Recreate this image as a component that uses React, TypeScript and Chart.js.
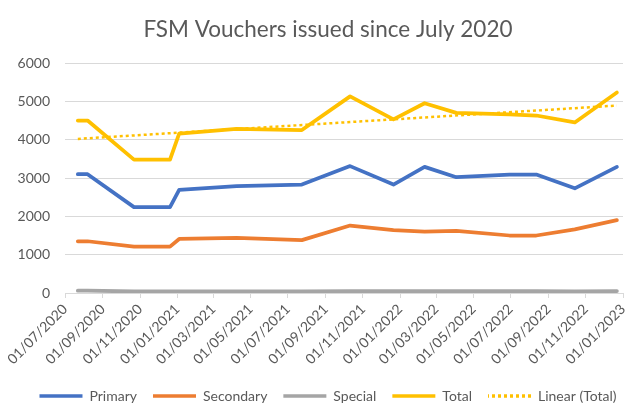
import React, { useEffect, useRef } from 'react';
import { Chart, registerables } from 'chart.js';

Chart.register(...registerables);

// ---- data ----
const seriesNames = ['Primary', 'Secondary', 'Special', 'Total'];
const trendName = 'Linear (Total)';
const issueDates = [
  '22/07/2020', '07/08/2020', '22/10/2020', '20/12/2020', '04/01/2021',
  '08/04/2021', '24/07/2021', '11/10/2021', '21/12/2021', '10/02/2022',
  '03/04/2022', '29/06/2022', '12/08/2022', '14/10/2022', '22/12/2022',
];
const primary = [3100, 3100, 2240, 2240, 2690, 2790, 2830, 3310, 2830, 3290, 3020, 3090, 3090, 2730, 3290];
const secondary = [1350, 1350, 1210, 1210, 1410, 1440, 1380, 1760, 1640, 1600, 1620, 1500, 1500, 1660, 1900];
const special = [60, 60, 40, 40, 40, 45, 45, 50, 50, 50, 50, 50, 50, 40, 50];
const total = [4500, 4500, 3480, 3480, 4160, 4280, 4250, 5130, 4530, 4950, 4700, 4660, 4630, 4450, 5230];
const trendDates = ['22/07/2020', '22/12/2022'];
const trendTotal = [4020, 4890];
const xTickLabels = [
  '01/07/2020', '01/09/2020', '01/11/2020', '01/01/2021', '01/03/2021', '01/05/2021',
  '01/07/2021', '01/09/2021', '01/11/2021', '01/01/2022', '01/03/2022', '01/05/2022',
  '01/07/2022', '01/09/2022', '01/11/2022', '01/01/2023',
];
const yTicks = [0, 1000, 2000, 3000, 4000, 5000, 6000];
const titleText = 'FSM Vouchers issued since July 2020';

// ---- styling ----
const COLORS = ['#4472C4', '#ED7D31', '#A5A5A5', '#FFC000'];
const TEXT = '#595959';
const GRID = '#D9D9D9';
const FONT = 'Lato';

const day = (s: string) => {
  const [d, m, y] = s.split('/').map(Number);
  return Date.UTC(y, m - 1, d) / 86400000;
};

export default function App() {
  const ref = useRef<HTMLCanvasElement | null>(null);

  useEffect(() => {
    document.body.style.margin = '0';
    const canvas = ref.current;
    if (!canvas) return;

    const pc = document.createElement('canvas');
    pc.width = 6;
    pc.height = 4;
    const pctx = pc.getContext('2d')!;
    pctx.fillStyle = COLORS[3];
    pctx.fillRect(0, 0, 3, 4);
    const ctx0 = canvas.getContext('2d')!;
    const dotPattern = ctx0.createPattern(pc, 'repeat');

    const seriesData = [primary, secondary, special, total];
    const datasets: any[] = seriesData.map((vals, i) => ({
      label: seriesNames[i],
      data: vals.map((v, j) => ({ x: day(issueDates[j]), y: v })),
      borderColor: COLORS[i],
      backgroundColor: COLORS[i],
      borderWidth: 3.75,
      pointRadius: 0,
      tension: 0,
      borderJoinStyle: 'round',
      borderCapStyle: 'round',
      fill: false,
    }));
    datasets.push({
      label: trendName,
      data: trendTotal.map((v, j) => ({ x: day(trendDates[j]), y: v })),
      borderColor: COLORS[3],
      backgroundColor: COLORS[3],
      borderWidth: 2.5,
      borderDash: [3, 3],
      pointRadius: 0,
      tension: 0,
      fill: false,
    });

    const chart = new Chart(canvas, {
      type: 'line',
      data: { datasets },
      options: {
        animation: false,
        responsive: false,
        layout: { padding: { left: 18, right: 0, top: 0, bottom: -5 } },
        plugins: {
          title: {
            display: true,
            text: titleText,
            color: TEXT,
            font: { family: FONT, size: 22.5, weight: 'normal' },
            padding: { top: 16, bottom: 20 },
          },
          legend: {
            position: 'bottom',
            labels: {
              boxWidth: 43,
              boxHeight: 3.5,
              padding: 16,
              color: TEXT,
              font: { family: FONT, size: 14 },
              generateLabels: (ch: any) =>
                ch.data.datasets.map((ds: any, i: number) => ({
                  text: ds.label,
                  fillStyle: i === 4 ? dotPattern : ds.borderColor,
                  strokeStyle: ds.borderColor,
                  lineWidth: 0,
                  hidden: false,
                  datasetIndex: i,
                  fontColor: TEXT,
                })),
            },
          },
          tooltip: { enabled: false },
        },
        scales: {
          x: {
            type: 'linear',
            min: day(xTickLabels[0]),
            max: day(xTickLabels[xTickLabels.length - 1]),
            afterBuildTicks: (scale: any) => {
              scale.ticks = xTickLabels.map((l) => ({ value: day(l) }));
            },
            afterFit: (scale: any) => {
              scale.height = 80;
            },
            ticks: {
              autoSkip: false,
              maxRotation: 45,
              minRotation: 45,
              padding: 3,
              color: TEXT,
              font: { family: FONT, size: 14 },
              callback: (_v: any, i: number) => xTickLabels[i],
            },
            grid: { display: true, drawOnChartArea: false, drawTicks: true, tickLength: 5, color: GRID },
            border: { display: true, color: GRID, width: 1 },
          },
          y: {
            min: yTicks[0],
            max: yTicks[yTicks.length - 1],
            afterBuildTicks: (scale: any) => {
              scale.ticks = yTicks.map((v) => ({ value: v }));
            },
            afterFit: (scale: any) => {
              scale.width = 47;
            },
            ticks: {
              padding: 15,
              color: TEXT,
              font: { family: FONT, size: 14 },
              callback: (v: any) => String(v),
            },
            grid: { color: GRID, drawTicks: false, lineWidth: 1 },
            border: { display: false },
          },
          spacer: {
            type: 'linear',
            position: 'right',
            display: true,
            ticks: { display: false },
            grid: { display: false, drawTicks: false },
            border: { display: false },
            afterFit: (scale: any) => {
              scale.width = 15;
            },
          },
        },
      },
    });
    return () => chart.destroy();
  }, []);

  return (
    <div style={{ width: 638, height: 408, background: '#fff' }}>
      <canvas ref={ref} width={638} height={408} style={{ display: 'block' }} />
    </div>
  );
}
